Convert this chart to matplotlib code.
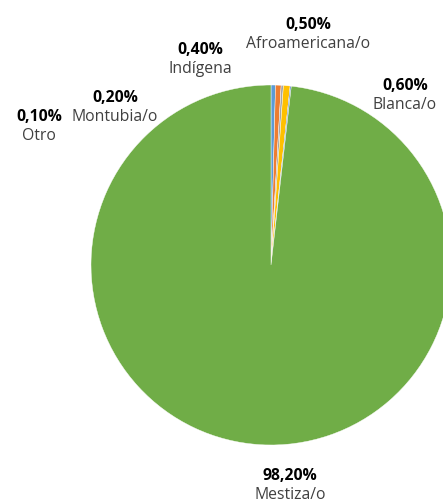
import matplotlib
matplotlib.use("Agg")
import matplotlib.pyplot as plt

categories = ["Indígena", "Afroamericana/o", "Montubia/o", "Blanca/o", "Otro", "Mestiza/o"]
values = [0.4, 0.5, 0.2, 0.6, 0.1, 98.2]
labels_pct = ["0,40%", "0,50%", "0,20%", "0,60%", "0,10%", "98,20%"]
colors = ["#5B9BD5", "#ED7D31", "#A5A5A5", "#FFC000", "#4472C4", "#70AD47"]

# label positions in pixel coords from top-left (center x, y of percentage line)
label_pos = {
    "Indígena": (200, 50),
    "Afroamericana/o": (308, 25),
    "Montubia/o": (115, 98),
    "Blanca/o": (405, 86),
    "Otro": (39, 117),
    "Mestiza/o": (290, 476),
}

W, H = 443, 503
fig = plt.figure(figsize=(W / 100, H / 100), dpi=100)
ax = fig.add_axes([0, 0, 1, 1])
ax.pie(values, colors=colors, startangle=90, counterclock=False,
       center=(271, H - 265), radius=180,
       wedgeprops=dict(linewidth=0.3, edgecolor="#ffffff"))
ax.set_xlim(0, W)
ax.set_ylim(0, H)
ax.set_aspect("equal")
ax.axis("off")

fam = ["Open Sans", "DejaVu Sans"]
for cat, pct in zip(categories, labels_pct):
    x, y = label_pos[cat]
    ax.text(x, H - y, pct, ha="center", va="center", fontsize=11.3, fontweight="bold",
            color="#000000", family=fam)
    ax.text(x, H - (y + 19), cat, ha="center", va="center", fontsize=11.3,
            color="#404040", family=fam)

fig.savefig("out.png", dpi=100)
